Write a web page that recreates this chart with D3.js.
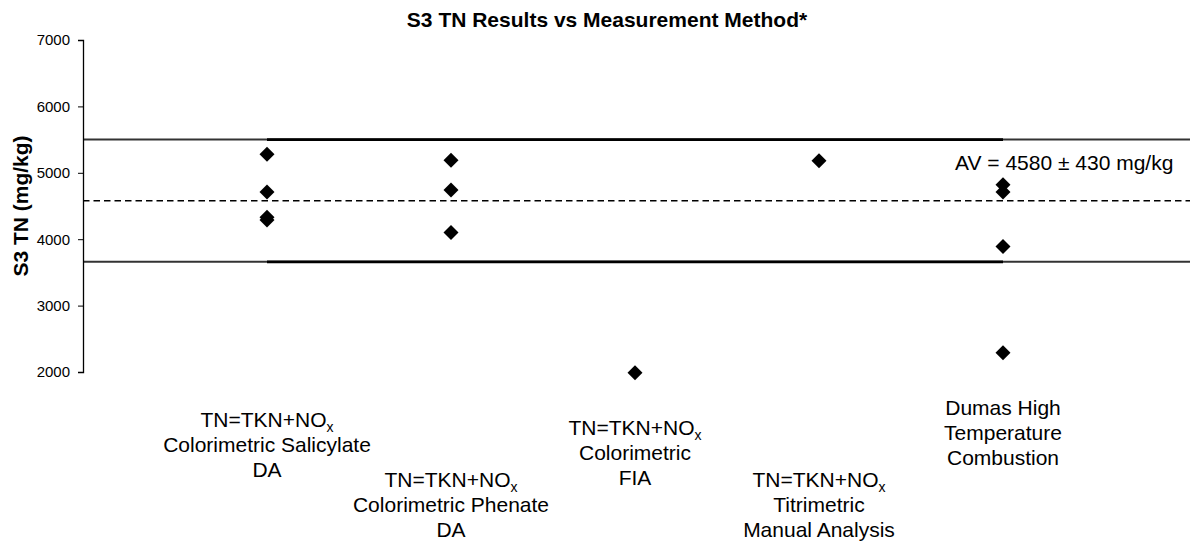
<!DOCTYPE html>
<html>
<head>
<meta charset="utf-8">
<script src="https://cdn.jsdelivr.net/npm/d3@7"></script>
<style>
  body { margin: 0; background: #fff; }
  svg { display: block; font-family: 'Liberation Sans', Arial, sans-serif; }
</style>
</head>
<body>
<div id="chart"></div>
<script>
// categories (measurement methods) and the results read per method
const categories = ['Salicylate DA', 'Phenate DA', 'FIA', 'Titrimetric', 'Dumas'];
const labelLines = [
  ['TN=TKN+NO|x', 'Colorimetric Salicylate', 'DA'],
  ['TN=TKN+NO|x', 'Colorimetric Phenate', 'DA'],
  ['TN=TKN+NO|x', 'Colorimetric', 'FIA'],
  ['TN=TKN+NO|x', 'Titrimetric', 'Manual Analysis'],
  ['Dumas High', 'Temperature', 'Combustion'],
];
const results = [
  [5280, 4710, 4330, 4290],
  [5190, 4740, 4100],
  [1990],
  [5180],
  [4820, 4710, 3890, 2290],
];
const assignedValue = 4580;
const uncertainty = 430;
const limits = [3660, 5500];
const yTicks = [2000, 3000, 4000, 5000, 6000, 7000];

const width = 1190;
const height = 542;
const margin = { t: 40, r: 3, b: 170, l: 83 };

const svg = d3
  .select('#chart')
  .append('svg')
  .attr('width', width)
  .attr('height', height);

const x = d3.scalePoint(categories, [margin.l, width - margin.r]).padding(1);
const y = d3.scaleLinear().domain([2000, 7000]).range([height - margin.b, margin.t]);

// title
svg
  .append('text')
  .attr('x', 607)
  .attr('y', 27)
  .attr('text-anchor', 'middle')
  .style('font-size', '21px')
  .style('font-weight', 'bold')
  .text('S3 TN Results vs Measurement Method*');

// limit lines (thin full width + thicker across the categories)
limits.forEach((v) => {
  svg
    .append('line')
    .attr('x1', margin.l)
    .attr('x2', width)
    .attr('y1', y(v))
    .attr('y2', y(v))
    .attr('stroke', '#333')
    .attr('stroke-width', 2);
  svg
    .append('line')
    .attr('x1', x(categories[0]))
    .attr('x2', x(categories[categories.length - 1]))
    .attr('y1', y(v))
    .attr('y2', y(v))
    .attr('stroke', '#000')
    .attr('stroke-width', 2.7);
});

// assigned value
svg
  .append('line')
  .attr('x1', margin.l)
  .attr('x2', width)
  .attr('y1', y(assignedValue))
  .attr('y2', y(assignedValue))
  .attr('stroke', '#000')
  .attr('stroke-width', 1.6)
  .attr('stroke-dasharray', '6.5,4');

svg
  .append('text')
  .attr('x', 955)
  .attr('y', 170)
  .style('font-size', '21px')
  .text(`AV = ${assignedValue} \u00b1 ${uncertainty} mg/kg`);

// y axis
const yAxis = svg
  .append('g')
  .attr('transform', `translate(${margin.l}, 0)`)
  .call(d3.axisLeft(y).tickValues(yTicks).tickSize(5).tickPadding(8).tickFormat(d3.format('d')));
yAxis.select('.domain').attr('stroke', '#000').attr('stroke-width', 1.3);
yAxis.selectAll('.tick line').attr('stroke', '#000');
yAxis
  .selectAll('.tick text')
  .style('font-size', '15px')
  .style('font-family', "'Liberation Sans', Arial, sans-serif")
  .attr('fill', '#000');

svg
  .append('text')
  .attr('transform', `translate(28, ${(y(2000) + y(7000)) / 2}) rotate(-90)`)
  .attr('text-anchor', 'middle')
  .style('font-size', '21px')
  .style('font-weight', 'bold')
  .text('S3 TN (mg/kg)');

// points
const points = results.flatMap((vals, i) => vals.map((v) => ({ cat: categories[i], v })));
svg
  .selectAll('.dot')
  .data(points)
  .join('path')
  .attr('class', 'dot')
  .attr('d', d3.symbol(d3.symbolSquare, 112))
  .attr('transform', (d) => `translate(${x(d.cat)}, ${y(d.v)}) rotate(45)`)
  .attr('fill', '#000');

// category labels, staggered like the original
const labelBase = [427, 487, 435, 487, 415];
const lineH = 25;
categories.forEach((c, i) => {
  const g = svg.append('g');
  labelLines[i].forEach((line, j) => {
    const t = g
      .append('text')
      .attr('x', x(c))
      .attr('y', labelBase[i] + j * lineH)
      .attr('text-anchor', 'middle')
      .style('font-size', '21px');
    const parts = line.split('|');
    t.append('tspan').text(parts[0]);
    if (parts[1]) {
      t.append('tspan').attr('dy', 5).style('font-size', '14px').text(parts[1]);
    }
  });
});
</script>
</body>
</html>
